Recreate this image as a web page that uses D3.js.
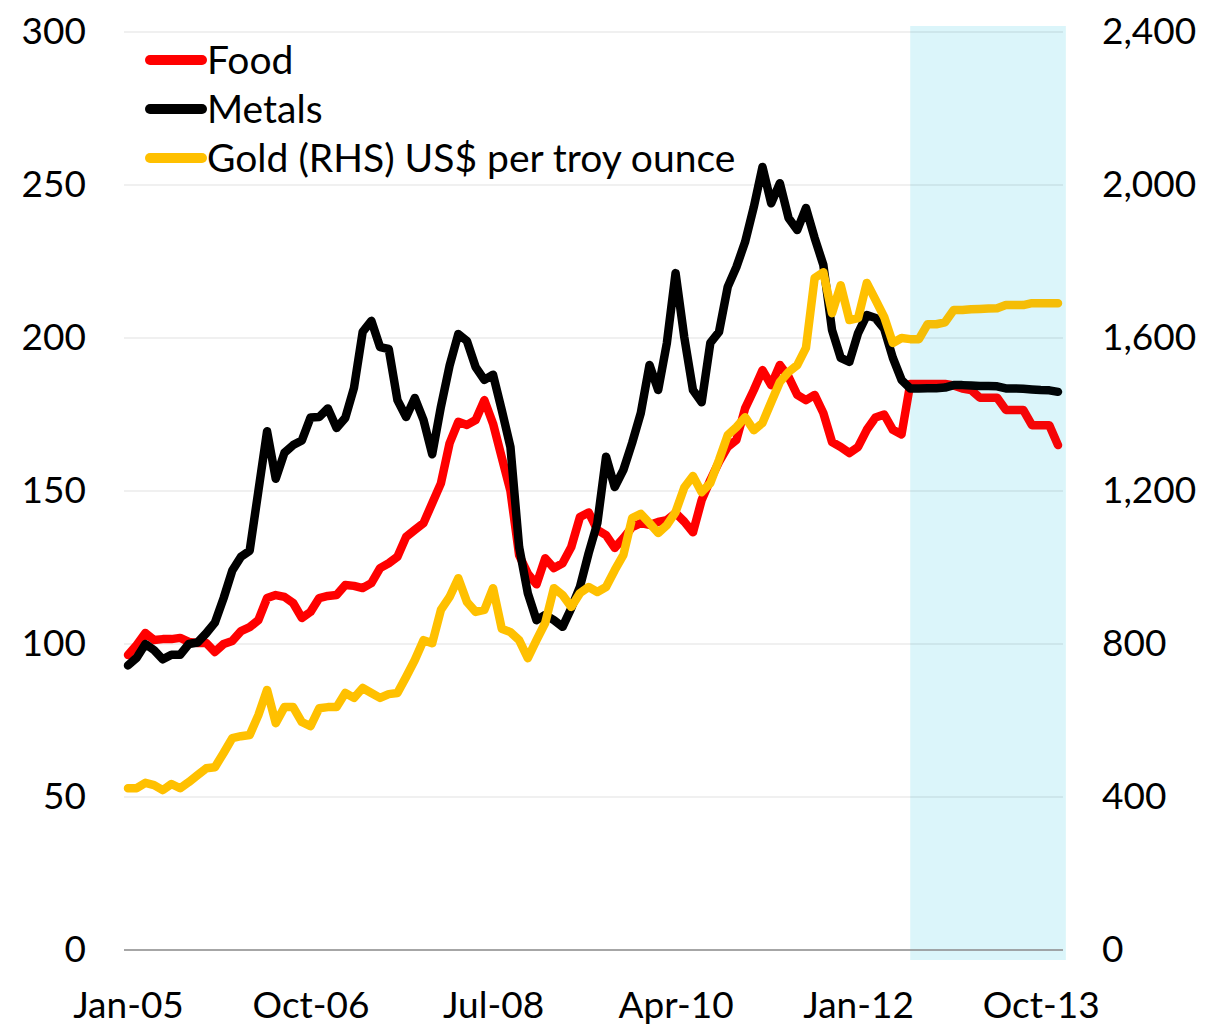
<!DOCTYPE html>
<html>
<head>
<meta charset="utf-8">
<script src="https://cdn.jsdelivr.net/npm/d3@7"></script>
<style>
  body { margin: 0; background: #fff; }
  svg text { font-family: Lato, "Open Sans", sans-serif; fill: #000; }
</style>
</head>
<body>
<div id="chart"></div>
<script>
// monthly index values, Jan-05 .. Dec-13 (from Jul-12 on: forecast)
var food = [96.4, 99.7, 103.6, 101.3, 101.6, 101.6, 102, 100.7, 100.3, 100.3, 97.4, 100,
  101, 104.2, 105.5, 107.8, 115, 116, 115.4, 113.4, 108.5, 110.5, 115, 115.7,
  116, 119.3, 119, 118.3, 119.9, 124.8, 126.4, 128.5, 135, 137.3, 139.5, 146,
  152.5, 165.6, 172.6, 171.6, 173.2, 179.7, 172, 161, 150, 129, 123, 119.5,
  128, 124.8, 126.4, 131.7, 141.5, 143, 137.3, 135.6, 131.4, 134.6, 138.2, 139.5,
  138.9, 139.9, 140.5, 142.8, 140, 136.5, 147, 153.6, 159.5, 164.4, 166.7, 177,
  183, 189.5, 184.6, 191.2, 187.3, 181.4, 179.7, 181.4, 175.5, 166, 164.4, 162.4,
  164.4, 170, 174, 175, 170, 168.5, 185, 185, 185, 185, 185, 184.5,
  183.5, 183, 180.5, 180.5, 180.5, 176.5, 176.5, 176.5, 171.5, 171.5, 171.5, 165];

var metals = [93, 95.5, 100, 98, 95, 96.5, 96.5, 100, 100.5, 103.5, 107, 115,
  124, 128.5, 130.5, 150, 169.5, 154, 162.5, 165, 166.5, 174, 174.2, 177,
  170.6, 173.9, 183.7, 202, 205.6, 197, 196.4, 179.7, 174.2, 180.4, 173.2, 162,
  177.5, 191, 201.3, 199, 190.5, 186.3, 188, 176.5, 164.4, 131.7, 116.6, 107.8,
  109.5, 107.8, 105.6, 111.7, 118.7, 129.7, 139.5, 161.2, 151.3, 156.9, 165.7, 175.5,
  191.2, 183, 198.4, 221.2, 200.3, 183, 179, 198.4, 202, 216.7, 223.2, 231.4,
  242.8, 255.9, 244, 250.6, 239.2, 235.3, 242.5, 232.7, 223.9, 202.6, 193.5, 192.2,
  201.6, 207.5, 206.5, 203, 193.5, 186.3, 183.5, 183.5, 183.6, 183.6, 183.8, 184.6,
  184.6, 184.5, 184.3, 184.3, 184.2, 183.5, 183.5, 183.4, 183.2, 183, 182.9, 182.4];

// US$ per troy ounce (right axis)
var gold = [423, 423, 437, 431, 418, 434, 423, 439, 457, 475, 478, 515,
  554, 559, 562, 614, 680, 593, 635, 635, 596, 585, 632, 635,
  635, 672, 659, 685, 672, 659, 669, 672, 714, 758, 810, 802,
  889, 923, 972, 910, 884, 889, 946, 840, 831, 810, 763, 810,
  855, 946, 928, 897, 933, 949, 936, 949, 993, 1033, 1129, 1140,
  1116, 1090, 1111, 1145, 1209, 1239, 1197, 1221, 1281, 1346, 1367, 1393,
  1359, 1378, 1432, 1485, 1511, 1529, 1574, 1757, 1772, 1665, 1738, 1647,
  1652, 1744, 1700, 1655, 1587, 1600, 1597, 1597, 1636, 1636, 1641, 1673,
  1673, 1675, 1676, 1677, 1678, 1686, 1686, 1686, 1691, 1691, 1691, 1691];

var tickLabels = ["Jan-05", "Oct-06", "Jul-08", "Apr-10", "Jan-12", "Oct-13"];
var leftTicks = [0, 50, 100, 150, 200, 250, 300];
var rightTicks = [0, 400, 800, 1200, 1600, 2000, 2400];
var forecastStart = "Jul-12";

var series = [
  { name: "Food", values: food, color: "#ff0000", axis: "left" },
  { name: "Metals", values: metals, color: "#000000", axis: "left" },
  { name: "Gold (RHS) US$ per troy ounce", values: gold, color: "#ffc000", axis: "right" }
];

var width = 1205, height = 1025;
var fmtMonth = d3.utcFormat("%b-%y");
var months = d3.utcMonth.range(new Date(Date.UTC(2005, 0, 1)), new Date(Date.UTC(2014, 0, 1))).map(fmtMonth);

var x = d3.scalePoint().domain(months).range([128, 1058]);
var yL = d3.scaleLinear().domain([0, 300]).range([950, 32]);
var yR = d3.scaleLinear().domain([0, 2400]).range([950, 32]);

var svg = d3.select("#chart").append("svg")
    .attr("width", width)
    .attr("height", height);

// forecast shading (behind the lines, plus a faint tint on top)
var step = x.step();
var shadeX = x(forecastStart);
var shadeW = x(months[months.length - 1]) + step * 0.9 - shadeX;
svg.append("rect")
    .attr("x", shadeX).attr("y", 26)
    .attr("width", shadeW).attr("height", 934)
    .attr("fill", "#e4fafd");

// gridlines
svg.append("g").selectAll("line")
    .data(leftTicks.slice(1))
    .enter().append("line")
    .attr("x1", 124).attr("x2", 1063)
    .attr("y1", d => yL(d)).attr("y2", d => yL(d))
    .attr("stroke", "#000")
    .attr("stroke-opacity", 0.06)
    .attr("stroke-width", 2);

svg.append("line")
    .attr("x1", 124).attr("x2", 1063)
    .attr("y1", yL(0)).attr("y2", yL(0))
    .attr("stroke", "#a6a6a6")
    .attr("stroke-width", 2);

// lines
series.forEach(function (s) {
  var yS = s.axis === "left" ? yL : yR;
  var line = d3.line()
      .x((d, i) => x(months[i]))
      .y(d => yS(d));
  svg.append("path")
      .datum(s.values)
      .attr("d", line)
      .attr("fill", "none")
      .attr("stroke", s.color)
      .attr("stroke-width", 8.5)
      .attr("stroke-linejoin", "round")
      .attr("stroke-linecap", "round");
});

svg.append("rect")
    .attr("x", shadeX).attr("y", 26)
    .attr("width", shadeW).attr("height", 934)
    .attr("fill", "rgb(0,120,180)")
    .attr("fill-opacity", 0.04);

// left axis
var axisL = svg.append("g")
    .attr("transform", "translate(86,0)")
    .call(d3.axisLeft(yL).tickValues(leftTicks).tickSize(0).tickPadding(0));
axisL.select(".domain").remove();

// right axis
var axisR = svg.append("g")
    .attr("transform", "translate(1102,0)")
    .call(d3.axisRight(yR).tickValues(rightTicks).tickSize(0).tickPadding(0).tickFormat(d3.format(",")));
axisR.select(".domain").remove();

// bottom axis
var axisB = svg.append("g")
    .attr("transform", "translate(0,990)")
    .call(d3.axisBottom(x).tickValues(tickLabels).tickSize(0).tickPadding(0));
axisB.select(".domain").remove();

svg.selectAll(".tick text")
    .style("font-size", "37px")
    .attr("fill", "#000");
axisB.selectAll(".tick text").attr("dy", "0.75em");

// legend
var legend = svg.append("g").selectAll("g")
    .data(series)
    .enter().append("g")
    .attr("transform", (d, i) => "translate(0," + (60 + i * 49) + ")");

legend.append("line")
    .attr("x1", 150).attr("x2", 202)
    .attr("stroke", d => d.color)
    .attr("stroke-width", 10)
    .attr("stroke-linecap", "round");

legend.append("text")
    .attr("x", 207)
    .attr("dy", "0.36em")
    .style("font-size", "39px")
    .text(d => d.name);
</script>
</body>
</html>
